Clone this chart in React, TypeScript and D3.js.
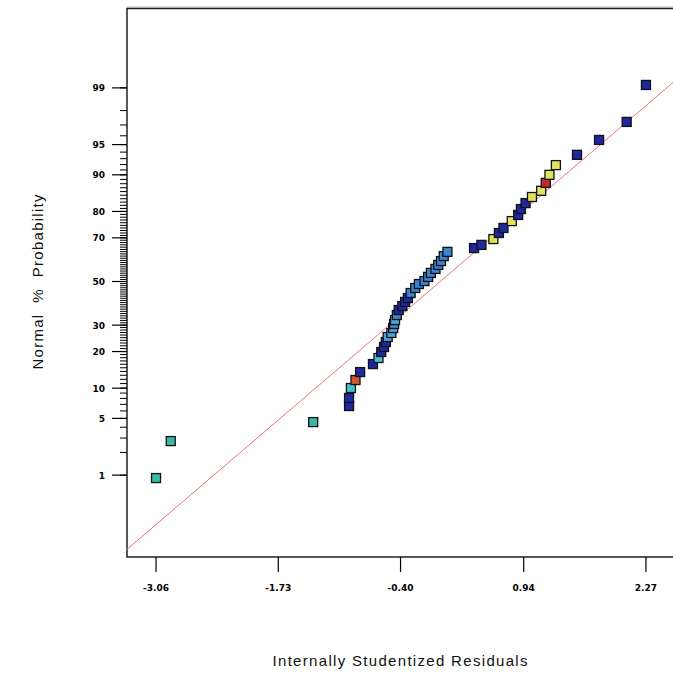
import React from "react";
import * as d3 from "d3";

// ---- data ----
const residuals = [
  -3.06, -2.9, -1.35, -0.96, -0.96, -0.94, -0.89, -0.84, -0.7, -0.64,
  -0.61, -0.58, -0.56, -0.54, -0.5, -0.48, -0.47, -0.46, -0.44, -0.42,
  -0.38, -0.35, -0.32, -0.29, -0.24, -0.2, -0.14, -0.1, -0.07, -0.02,
  0.01, 0.04, 0.07, 0.11, 0.4, 0.48, 0.61, 0.67, 0.72, 0.81,
  0.88, 0.91, 0.96, 1.03, 1.13, 1.18, 1.22, 1.29, 1.52, 1.76,
  2.06, 2.27,
];
const probabilities = [
  0.91, 2.76, 4.56, 6.73, 8.08, 10.03, 11.82, 13.83, 16.06, 17.9,
  19.85, 21.56, 23.36, 25.24, 26.8, 28.8, 30.47, 32.17, 34.35, 36.6,
  38.4, 40.3, 42.1, 44.5, 46.9, 48.8, 50.2, 52.2, 54.1, 56.0,
  57.9, 59.7, 62.0, 63.9, 65.6, 67.0, 69.5, 72.0, 74.0, 76.6,
  78.8, 80.8, 82.7, 84.5, 86.2, 88.2, 90.0, 91.9, 93.6, 95.55,
  97.24, 99.09,
];
const pointGroups = [
  "teal", "teal", "teal", "navy", "navy", "cyan", "orange", "navy", "navy", "cyan",
  "navy", "navy", "navy", "light", "light", "light", "steel", "light", "steel", "navy",
  "navy", "navy", "navy", "steel", "steel", "steel", "steel", "steel", "steel", "steel",
  "steel", "steel", "steel", "steel", "navy", "navy", "yellow", "navy", "navy", "yellow",
  "navy", "navy", "navy", "yellow", "yellow", "red", "yellow", "yellow", "navy", "navy",
  "navy", "navy",
];
const xTickValues = [-3.06, -1.73, -0.4, 0.94, 2.27];
const xTickLabels = ["-3.06", "-1.73", "-0.40", "0.94", "2.27"];
const yMajorTicks = [1, 5, 10, 20, 30, 50, 70, 80, 90, 95, 99];
const yMinorTicks = d3.range(1, 100);
const fitMean = 0.032;
const fitSd = 1.059;
const xDomain = [-3.376, 2.586];
const zDomain = [-3.31, 3.28];

const groupColors: Record<string, string> = {
  navy: "#1f28a0",
  steel: "#3d82cc",
  light: "#4aa2dc",
  cyan: "#40c4d4",
  teal: "#3cb8a8",
  yellow: "#e2e25a",
  orange: "#cc5a2c",
  red: "#c42828",
};

// inverse standard normal CDF (Acklam)
function probit(p: number): number {
  const a = [-3.969683028665376e1, 2.209460984245205e2, -2.759285104469687e2, 1.38357751867269e2, -3.066479806614716e1, 2.506628277459239];
  const b = [-5.447609879822406e1, 1.615858368580409e2, -1.556989798598866e2, 6.680131188771972e1, -1.328068155288572e1];
  const c = [-7.784894002430293e-3, -3.223964580411365e-1, -2.400758277161838, -2.549732539343734, 4.374664141464968, 2.938163982698783];
  const d = [7.784695709041462e-3, 3.224671290700398e-1, 2.445134137142996, 3.754408661907416];
  const pl = 0.02425;
  if (p < pl) {
    const q = Math.sqrt(-2 * Math.log(p));
    return (((((c[0] * q + c[1]) * q + c[2]) * q + c[3]) * q + c[4]) * q + c[5]) / ((((d[0] * q + d[1]) * q + d[2]) * q + d[3]) * q + 1);
  }
  if (p > 1 - pl) {
    const q = Math.sqrt(-2 * Math.log(1 - p));
    return -(((((c[0] * q + c[1]) * q + c[2]) * q + c[3]) * q + c[4]) * q + c[5]) / ((((d[0] * q + d[1]) * q + d[2]) * q + d[3]) * q + 1);
  }
  const q = p - 0.5;
  const r = q * q;
  return ((((((a[0] * r + a[1]) * r + a[2]) * r + a[3]) * r + a[4]) * r + a[5]) * q) / (((((b[0] * r + b[1]) * r + b[2]) * r + b[3]) * r + b[4]) * r + 1);
}

const W = 673;
const H = 675;
const plotLeft = 127;
const plotRight = 675;
const plotTop = 8.5;
const plotBottom = 557;

export default function App() {
  const x = d3.scaleLinear().domain(xDomain).range([plotLeft, plotRight]);
  const zScale = d3.scaleLinear().domain(zDomain).range([plotBottom, plotTop]);
  const y = (pct: number) => zScale(probit(pct / 100));

  const linePts: [number, number][] = xDomain.map((v) => [x(v), zScale((v - fitMean) / fitSd)]);
  const linePath = d3.line()(linePts) as string;

  const sq = 9;
  const tickFont = "'DejaVu Sans', sans-serif";
  const titleFont = "'Liberation Sans', Arial, sans-serif";

  return (
    <svg width={W} height={H} style={{ position: "absolute", left: 0, top: 0, background: "#fff" }}>
      <defs>
        <clipPath id="plotClip">
          <rect x={plotLeft} y={plotTop} width={plotRight - plotLeft} height={plotBottom - plotTop} />
        </clipPath>
      </defs>
      <rect x={0} y={0} width={W} height={H} fill="#fff" />
      {/* frame */}
      <line x1={plotLeft} x2={plotRight} y1={plotTop - 1.5} y2={plotTop - 1.5} stroke="#bbb" strokeWidth={1} />
      <rect x={plotLeft} y={plotTop} width={plotRight - plotLeft} height={plotBottom - plotTop} fill="none" stroke="#222" strokeWidth={1.5} />
      {/* fit line */}
      <path d={linePath} stroke="#e07878" strokeWidth={1} fill="none" clipPath="url(#plotClip)" />
      {/* y minor ticks */}
      {yMinorTicks.map((p) => (
        <line key={"m" + p} x1={plotLeft - 7} x2={plotLeft} y1={y(p)} y2={y(p)} stroke="#000" strokeWidth={1} />
      ))}
      {/* y major ticks */}
      {yMajorTicks.map((p) => (
        <g key={"M" + p}>
          <line x1={plotLeft - 15} x2={plotLeft} y1={y(p)} y2={y(p)} stroke="#000" strokeWidth={1.2} />
          <text x={105} y={y(p) + 3.5} textAnchor="end" fontFamily={tickFont} fontWeight="bold" fontSize={9} fill="#000">
            {p}
          </text>
        </g>
      ))}
      {/* x ticks */}
      {xTickValues.map((v, i) => (
        <g key={"x" + i}>
          <line x1={x(v)} x2={x(v)} y1={plotBottom} y2={plotBottom + 15} stroke="#000" strokeWidth={1.2} />
          <text x={x(v)} y={plotBottom + 34} textAnchor="middle" fontFamily={tickFont} fontWeight="bold" fontSize={9} fill="#000">
            {xTickLabels[i]}
          </text>
        </g>
      ))}
      {/* points */}
      {residuals.map((r, i) => (
        <rect
          key={"p" + i}
          x={x(r) - sq / 2}
          y={y(probabilities[i]) - sq / 2}
          width={sq}
          height={sq}
          fill={groupColors[pointGroups[i]]}
          stroke="#111"
          strokeWidth={1.3}
        />
      ))}
      {/* axis titles */}
      <text x={400} y={666} textAnchor="middle" fontFamily={titleFont} fontSize={15} fill="#111" textLength={255} lengthAdjust="spacing">
        Internally Studentized Residuals
      </text>
      <text
        transform={`translate(43, ${282}) rotate(-90)`}
        textAnchor="middle"
        fontFamily={titleFont}
        fontSize={15}
        fill="#111"
        xmlSpace="preserve"
        textLength={175}
        lengthAdjust="spacing"
      >
        {"Normal  %  Probability"}
      </text>
    </svg>
  );
}
